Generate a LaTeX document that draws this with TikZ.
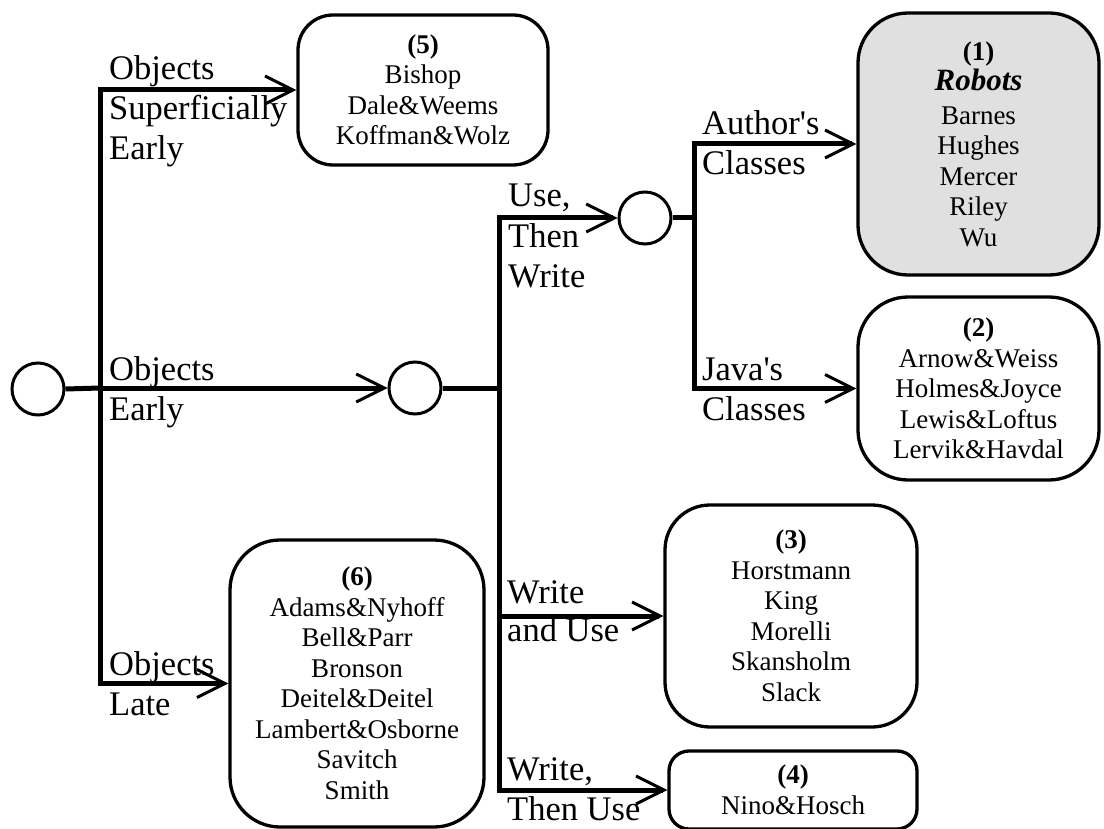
\documentclass[tikz,border=0pt]{standalone}
\usepackage{fontspec}
\setmainfont{Liberation Serif}[Ligatures=TeXOff]
\usetikzlibrary{arrows.meta}
\begin{document}
\begin{tikzpicture}[x=1pt,y=-1pt,
  flow/.style={line width=5pt},
  arr/.style={flow,-{Straight Barb[length=28pt,width=28pt,line width=3pt]}},
  junc/.style={circle,draw,line width=3pt,minimum size=52pt,inner sep=0pt},
  box/.style={draw,line width=3.3pt,align=center,inner sep=0pt,
    font=\fontsize{27}{30.5}\selectfont},
  lbl/.style={anchor=base west,inner sep=0pt,font=\fontsize{34.5}{40}\selectfont}]
\useasboundingbox (0,0) rectangle (1104,829);

% junction circles
\node[junc] (r0) at (38,389) {};
\node[junc] (c2) at (415,388) {};
\node[junc] (c3) at (645,218) {};

% boxes
\node[box,rounded corners=35pt,minimum width=250pt,minimum height=150pt] (b5) at (423,90)
  {\textbf{(5)}\\Bishop\\Dale\&Weems\\Koffman\&Wolz};
\node[box,rounded corners=50pt,fill={rgb,255:red,224;green,224;blue,224},minimum width=241pt,minimum height=262pt] (b1) at (978.5,144)
  {\textbf{(1)}\\{\fontsize{31}{34}\selectfont\textbf{\textit{Robots}}}\\[3pt]Barnes\\Hughes\\Mercer\\Riley\\Wu};
\node[box,rounded corners=50pt,minimum width=241pt,minimum height=183pt] (b2) at (978.5,388.5)
  {\textbf{(2)}\\Arnow\&Weiss\\Holmes\&Joyce\\Lewis\&Loftus\\Lervik\&Havdal};
\node[box,rounded corners=45pt,minimum width=252pt,minimum height=222pt] (b3) at (791,616)
  {\textbf{(3)}\\Horstmann\\King\\Morelli\\Skansholm\\Slack};
\node[box,rounded corners=20pt,minimum width=248pt,minimum height=78pt] (b4) at (793,790)
  {\textbf{(4)}\\Nino\&Hosch};
\node[box,rounded corners=50pt,minimum width=254pt,minimum height=287pt] (b6) at (357,683.5)
  {\textbf{(6)}\\Adams\&Nyhoff\\Bell\&Parr\\Bronson\\Deitel\&Deitel\\Lambert\&Osborne\\Savitch\\Smith};

% trunk coordinates
\coordinate (t1top) at (100,90);
\coordinate (t1mid) at (100,388);
\coordinate (t1bot) at (100,683.5);
\coordinate (t2top) at (499,218);
\coordinate (t2mid) at (499,388);
\coordinate (t2w) at (499,616);
\coordinate (t2bot) at (499,790);
\coordinate (t3top) at (694,144);
\coordinate (t3mid) at (694,218);
\coordinate (t3bot) at (694,388.5);

% trunks
\draw[flow,line cap=rect] (t1top) -- (t1bot);
\draw[flow,line cap=rect] (t2top) -- (t2bot);
\draw[flow,line cap=rect] (t3top) -- (t3bot);

% connectors
\draw[flow] (r0.east) -- (t1mid);
\draw[arr] (t1mid) -- (c2.west);
\draw[arr] (t1top) -- (b5.west);
\draw[arr] (t1bot) -- (b6.west);
\draw[flow] (c2.east) -- (t2mid);
\draw[arr] (t2top) -- (c3.west);
\draw[arr] (t2w) -- (b3.west);
\draw[arr] (t2bot) -- (b4.west);
\draw[flow] (c3.east) -- (t3mid);
\draw[arr] (t3top) -- (b1.west);
\draw[arr] (t3bot) -- (b2.west);

% labels
\node[lbl] (l1) at (109,80) {Objects};
\node[lbl] (l2) at (109,120) {Superficially};
\node[lbl] (l3) at (109,160) {Early};
\node[lbl] (l4) at (109,380) {Objects};
\node[lbl] (l5) at (109,420) {Early};
\node[lbl] (l6) at (109,675) {Objects};
\node[lbl] (l7) at (109,715) {Late};
\node[lbl] (l8) at (508,207) {Use,};
\node[lbl] (l9) at (508,248) {Then};
\node[lbl] (l10) at (508,288) {Write};
\node[lbl] (l11) at (702,135) {Author's};
\node[lbl] (l12) at (702,175) {Classes};
\node[lbl] (l13) at (702,380) {Java's};
\node[lbl] (l14) at (702,420) {Classes};
\node[lbl] (l15) at (507,603) {Write};
\node[lbl] (l16) at (507,641) {and Use};
\node[lbl] (l17) at (507,780) {Write,};
\node[lbl] (l18) at (507,820) {Then Use};
\end{tikzpicture}
\end{document}
